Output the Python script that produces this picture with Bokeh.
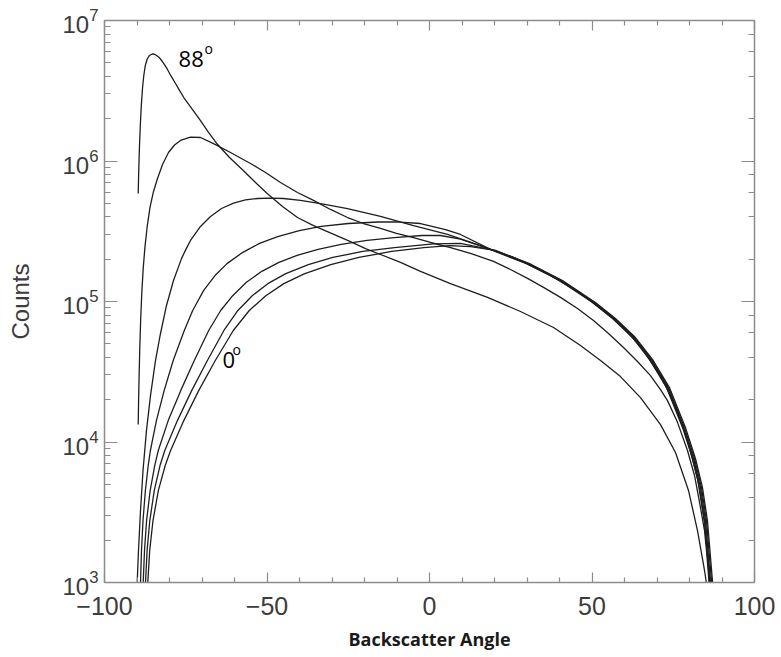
from bokeh.plotting import figure
from bokeh.models import Range1d, FixedTicker, LinearAxis, LogAxis, LogTicker, Label
from bokeh.embed import file_html
from bokeh.resources import INLINE

# ---- data (x = backscatter angle, y = counts) ----
x_88 = [-89.63, -89.54, -89.42, -89.23, -88.98, -88.68, -88.31, -87.91, -87.45, -86.86,
        -86.15, -85.32, -84.62, -84.0, -83.38, -82.77, -81.85, -80.71, -79.54, -78.15,
        -76.92, -75.6, -73.08, -70.46, -68.0, -65.32, -61.54, -57.14, -53.54, -49.94,
        -45.23, -40.62, -35.69, -30.15, -24.31, -19.69, -15.08, -8.92, -2.77, 6.46,
        17.85, 28.0, 38.15, 46.46, 52.62, 58.77, 64.92, 71.08, 75.69, 79.69,
        82.46, 84.62, 85.54]
y_88 = [5.87e5, 7.26e5, 9.29e5, 1.29e6, 1.79e6, 2.48e6, 3.28e6, 4.06e6, 4.78e6, 5.32e6,
        5.64e6, 5.78e6, 5.75e6, 5.64e6, 5.50e6, 5.32e6, 4.98e6, 4.52e6, 4.03e6, 3.56e6,
        3.18e6, 2.83e6, 2.35e6, 1.94e6, 1.60e6, 1.32e6, 1.06e6, 8.49e5, 7.03e5, 5.87e5,
        4.75e5, 3.96e5, 3.47e5, 3.05e5, 2.67e5, 2.38e5, 2.16e5, 1.90e5, 1.64e5, 1.34e5,
        1.07e5, 8.49e4, 6.53e4, 4.86e4, 3.80e4, 2.92e4, 2.07e4, 1.33e4, 8.41e3, 4.52e3,
        2.34e3, 1.22e3, 8.77e2]

x_b = [-89.63, -89.51, -89.35, -89.14, -88.86, -88.52, -88.09, -87.54, -86.86, -86.0,
       -84.92, -83.69, -82.15, -80.31, -78.46, -76.62, -73.54, -70.46, -66.46, -61.23,
       -55.08, -50.46, -45.85, -40.62, -35.69, -30.46, -25.23, -20.31, -15.08, -10.15,
       -4.92, 0.31, 6.46, 12.62, 19.69, 24.92, 30.15, 35.08, 40.31, 45.54,
       50.46, 55.08, 59.69, 64.0, 68.0, 71.08, 73.23, 76.31, 79.38, 81.54,
       83.38, 84.62, 85.23, 85.85, 86.15]
y_b = [1.33e4, 1.97e4, 2.97e4, 4.71e4, 7.57e4, 1.16e5, 1.72e5, 2.46e5, 3.42e5, 4.67e5,
       6.07e5, 7.51e5, 9.44e5, 1.15e6, 1.30e6, 1.40e6, 1.48e6, 1.47e6, 1.33e6, 1.15e6,
       9.60e5, 8.28e5, 7.03e5, 5.97e5, 5.24e5, 4.52e5, 3.96e5, 3.59e5, 3.31e5, 3.05e5,
       2.85e5, 2.63e5, 2.42e5, 2.20e5, 1.93e5, 1.69e5, 1.46e5, 1.26e5, 1.07e5, 8.92e4,
       7.32e4, 5.92e4, 4.71e4, 3.74e4, 2.97e4, 2.36e4, 1.97e4, 1.38e4, 8.70e3, 5.78e3,
       3.42e3, 2.34e3, 1.69e3, 1.12e3, 8.77e2]

x_c = [-89.94, -89.54, -88.92, -88.15, -87.08, -85.85, -84.31, -82.77, -80.92, -78.77,
       -76.31, -74.92, -73.54, -70.46, -67.38, -64.0, -60.31, -56.62, -52.92, -48.92,
       -44.92, -39.69, -32.62, -25.23, -15.08, -4.92, 5.54, 15.69, 25.85, 36.31,
       46.46, 52.62, 58.77, 64.92, 71.08, 75.69, 79.38, 82.46, 84.62, 86.15, 86.62]
y_c = [1.00e3, 1.69e3, 3.25e3, 6.27e3, 1.21e4, 2.14e4, 3.80e4, 5.92e4, 9.37e4, 1.41e5,
       2.02e5, 2.36e5, 2.72e5, 3.42e5, 4.03e5, 4.59e5, 5.02e5, 5.28e5, 5.41e5, 5.45e5,
       5.41e5, 5.24e5, 4.94e5, 4.59e5, 4.03e5, 3.47e5, 3.00e5, 2.50e5, 2.06e5, 1.58e5,
       1.14e5, 8.92e4, 6.86e4, 4.78e4, 2.97e4, 1.79e4, 1.03e4, 5.50e3, 2.67e3, 1.10e3, 8.77e2]

x_d = [-88.92, -88.62, -88.15, -87.42, -86.55, -85.88, -84.03, -81.63, -78.86, -75.45,
       -72.86, -69.48, -66.0, -62.31, -57.57, -52.31, -46.71, -40.06, -33.29, -24.98,
       -15.75, -10.46, -2.77, 4.92, 9.54, 19.39, 29.85, 40.01, 50.16, 56.32,
       62.47, 67.7, 72.93, 77.85, 80.93, 83.08, 84.62, 86.16, 86.47]
y_d = [1.00e3, 1.69e3, 2.76e3, 4.52e3, 6.80e3, 8.70e3, 1.42e4, 2.33e4, 3.80e4, 6.22e4,
       8.63e4, 1.20e5, 1.53e5, 1.86e5, 2.23e5, 2.59e5, 2.90e5, 3.20e5, 3.42e5, 3.59e5,
       3.68e5, 3.69e5, 3.59e5, 3.25e5, 3.00e5, 2.31e5, 1.86e5, 1.41e5, 9.84e4, 7.57e4,
       5.54e4, 3.87e4, 2.44e4, 1.27e4, 7.63e3, 4.75e3, 2.76e3, 1.03e3, 8.77e2]

x_e = [-88.09, -87.69, -87.05, -85.94, -84.55, -83.45, -80.4, -76.52, -72.37, -67.94,
       -64.25, -60.55, -56.34, -51.6, -46.34, -40.74, -34.28, -27.2, -19.2, -10.89,
       -2.28, 3.38, 9.54, 19.69, 30.15, 40.31, 50.46, 56.62, 62.77, 68.0,
       73.23, 78.15, 81.23, 83.38, 84.92, 86.46, 86.77]
y_e = [1.00e3, 1.69e3, 2.76e3, 4.52e3, 6.80e3, 8.70e3, 1.42e4, 2.33e4, 3.80e4, 6.22e4,
       8.63e4, 1.10e5, 1.37e5, 1.64e5, 1.90e5, 2.13e5, 2.35e5, 2.55e5, 2.72e5, 2.85e5,
       2.95e5, 2.95e5, 2.78e5, 2.31e5, 1.86e5, 1.41e5, 9.84e4, 7.57e4, 5.54e4, 3.87e4,
       2.44e4, 1.27e4, 7.63e3, 4.75e3, 2.76e3, 1.03e3, 8.77e2]

x_f = [-87.38, -86.89, -86.06, -84.68, -82.92, -81.45, -77.57, -73.14, -68.34, -63.26,
       -58.95, -54.55, -49.75, -44.22, -37.29, -29.75, -20.52, -10.77, 1.23, 9.54,
       19.99, 30.45, 40.61, 50.76, 56.92, 63.07, 68.3, 73.53, 78.45, 81.53,
       83.68, 85.22, 86.76, 87.07]
y_f = [1.00e3, 1.69e3, 2.76e3, 4.52e3, 6.80e3, 8.70e3, 1.42e4, 2.33e4, 3.80e4, 6.22e4,
       8.63e4, 1.10e5, 1.34e5, 1.58e5, 1.83e5, 2.06e5, 2.27e5, 2.42e5, 2.57e5, 2.59e5,
       2.31e5, 1.86e5, 1.41e5, 9.84e4, 7.57e4, 5.54e4, 3.87e4, 2.44e4, 1.27e4, 7.63e3,
       4.75e3, 2.76e3, 1.03e3, 8.77e2]

x_0 = [-86.68, -86.09, -85.08, -83.42, -81.32, -79.66, -75.6, -70.98, -65.91, -60.37,
       -55.45, -50.37, -44.83, -38.37, -30.37, -21.75, -11.6, -1.75, 6.15, 12.62,
       20.29, 30.75, 40.91, 51.06, 57.22, 63.37, 68.6, 73.83, 78.75, 81.83,
       83.98, 85.52, 87.06, 87.37]
y_0 = [1.00e3, 1.69e3, 2.76e3, 4.52e3, 6.80e3, 8.70e3, 1.42e4, 2.33e4, 3.80e4, 6.22e4,
       8.63e4, 1.10e5, 1.34e5, 1.58e5, 1.83e5, 2.06e5, 2.27e5, 2.42e5, 2.50e5, 2.46e5,
       2.31e5, 1.86e5, 1.41e5, 9.84e4, 7.57e4, 5.54e4, 3.87e4, 2.44e4, 1.27e4, 7.63e3,
       4.75e3, 2.76e3, 1.03e3, 8.77e2]

curves = [(x_88, y_88), (x_b, y_b), (x_c, y_c), (x_d, y_d), (x_e, y_e), (x_f, y_f), (x_0, y_0)]

x_ticks = [-100, -50, 0, 50, 100]
x_tick_labels = ["\u2212100", "\u221250", "0", "50", "100"]
x_minor_ticks = [-90, -80, -70, -60, -40, -30, -20, -10, 10, 20, 30, 40, 60, 70, 80, 90]

label_88 = ("88", "o", -77.2, 5.32e6, -69.2, 6.32e6)
label_0 = ("0", "o", -63.7, 3.86e4, -60.6, 4.55e4)

AX = "#8c8c8c"
TXT = "#3c3c3c"

p = figure(frame_width=650, frame_height=562,
           x_range=Range1d(-100, 100), y_range=Range1d(1e3, 1e7),
           y_axis_type="log", output_backend="svg", toolbar_location=None,
           min_border_left=104, min_border_right=27, min_border_top=20, min_border_bottom=75)
p.outline_line_color = None
p.grid.visible = False
p.background_fill_color = "white"
p.border_fill_color = "white"

for xs, ys in curves:
    p.line(xs, ys, line_color="#1e1e1e", line_width=1.3)

def style(ax, maj, mnr):
    ax.axis_line_color = AX
    ax.axis_line_width = 1.5
    ax.major_tick_line_color = AX
    ax.minor_tick_line_color = AX
    ax.major_tick_line_width = 1.2
    ax.minor_tick_line_width = 1.2
    ax.major_tick_in = maj
    ax.major_tick_out = 0
    ax.minor_tick_in = mnr
    ax.minor_tick_out = 0

xticker = FixedTicker(ticks=x_ticks, minor_ticks=x_minor_ticks)
xa = p.xaxis[0]
xa.ticker = xticker
xa.major_label_overrides = {t: l for t, l in zip(x_ticks, x_tick_labels)}
style(xa, 10, 5)
xa.major_label_standoff = 14
xa.major_label_text_font = "Liberation Sans"
xa.major_label_text_font_size = "25px"
xa.major_label_text_color = TXT
xa.axis_label = "Backscatter Angle"
xa.axis_label_text_font = "Open Sans"
xa.axis_label_text_font_style = "bold"
xa.axis_label_text_font_size = "18px"
xa.axis_label_text_color = "#1a1a1a"
xa.axis_label_standoff = 9

ya = p.yaxis[0]
style(ya, 13, 6)
ya.major_label_standoff = 6
ya.major_label_text_font = "Liberation Sans"
ya.major_label_text_font_size = "24px"
ya.major_label_text_color = TXT
ya.axis_label = "Counts"
ya.axis_label_text_font = "Liberation Sans"
ya.axis_label_text_font_style = "normal"
ya.axis_label_text_font_size = "24px"
ya.axis_label_text_color = TXT
ya.axis_label_standoff = 25

top = LinearAxis(ticker=FixedTicker(ticks=x_ticks, minor_ticks=x_minor_ticks))
style(top, 10, 5)
top.major_label_text_color = None
p.add_layout(top, "above")

right = LogAxis(ticker=LogTicker())
style(right, 13, 6)
right.major_label_text_color = None
p.add_layout(right, "right")

for big, small, bx, by, sx, sy in (label_88, label_0):
    p.add_layout(Label(x=bx, y=by, text=big, text_font="Open Sans", text_font_size="22px",
                       text_color="black", text_baseline="alphabetic", text_align="left"))
    p.add_layout(Label(x=sx, y=sy, text=small, text_font="Open Sans", text_font_size="14px",
                       text_color="black", text_baseline="alphabetic", text_align="left"))

open("out.html", "w").write(file_html(p, INLINE))
